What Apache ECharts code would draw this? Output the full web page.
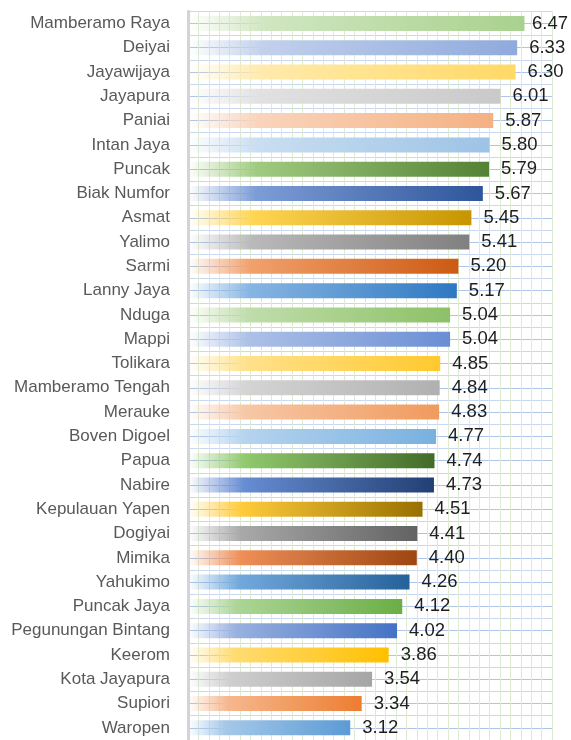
<!DOCTYPE html>
<html>
<head>
<meta charset="utf-8">
<script src="https://cdn.jsdelivr.net/npm/echarts@6/dist/echarts.min.js"></script>
<style>
html,body{margin:0;padding:0;background:#fff;}
#chart{width:571px;height:740px;}
</style>
</head>
<body>
<div id="chart"></div>
<script>
// ---- data (top to bottom) ----
const categories = [
  "Mamberamo Raya","Deiyai","Jayawijaya","Jayapura","Paniai","Intan Jaya",
  "Puncak","Biak Numfor","Asmat","Yalimo","Sarmi","Lanny Jaya",
  "Nduga","Mappi","Tolikara","Mamberamo Tengah","Merauke","Boven Digoel",
  "Papua","Nabire","Kepulauan Yapen","Dogiyai","Mimika","Yahukimo",
  "Puncak Jaya","Pegunungan Bintang","Keerom","Kota Jayapura","Supiori","Waropen"
];
const values = [
  6.47,6.33,6.30,6.01,5.87,5.80,
  5.79,5.67,5.45,5.41,5.20,5.17,
  5.04,5.04,4.85,4.84,4.83,4.77,
  4.74,4.73,4.51,4.41,4.40,4.26,
  4.12,4.02,3.86,3.54,3.34,3.12
];
// bar end colours (style)
const barColors = [
  "#A9D18E","#8FAADC","#FFD966","#C9C9C9","#F4B183","#9DC3E6",
  "#548235","#2F559A","#C69500","#808080","#CC5A12","#2E78C2",
  "#8CC166","#6A8ED4","#FFC92E","#B0B0B0","#F09A5E","#78B0E0",
  "#426B28","#223F74","#987000","#626262","#9E4510","#25619A",
  "#6AAE45","#4472C4","#FFC000","#A5A5A5","#ED7D31","#5B9BD5"
];

function hexToRgb(h){h=h.replace('#','');return [parseInt(h.substr(0,2),16),parseInt(h.substr(2,2),16),parseInt(h.substr(4,2),16)];}
function rgbToHsl(r,g,b){r/=255;g/=255;b/=255;const mx=Math.max(r,g,b),mn=Math.min(r,g,b);let h=0,s=0,l=(mx+mn)/2;
  if(mx!==mn){const d=mx-mn;s=l>0.5?d/(2-mx-mn):d/(mx+mn);
    if(mx===r)h=(g-b)/d+(g<b?6:0);else if(mx===g)h=(b-r)/d+2;else h=(r-g)/d+4;h/=6;}
  return [h,s,l];}
function hslToRgb(h,s,l){function f(p,q,t){if(t<0)t+=1;if(t>1)t-=1;if(t<1/6)return p+(q-p)*6*t;if(t<1/2)return q;if(t<2/3)return p+(q-p)*(2/3-t)*6;return p;}
  if(s===0)return [l*255,l*255,l*255];const q=l<0.5?l*(1+s):l+s-l*s,p=2*l-q;
  return [f(p,q,h+1/3)*255,f(p,q,h)*255,f(p,q,h-1/3)*255];}
function tint(hex,amt){const [r,g,b]=hexToRgb(hex);const [h,s,l]=rgbToHsl(r,g,b);const c=hslToRgb(h,s,l+(1-l)*amt);return c.map(Math.round);}

function gradientFor(i){
  const end=barColors[i];
  const t=tint(end,0.45);
  return new echarts.graphic.LinearGradient(0,0,1,0,[
    {offset:0,color:`rgba(${t[0]},${t[1]},${t[2]},0)`},
    {offset:0.23,color:`rgb(${t[0]},${t[1]},${t[2]})`},
    {offset:1,color:end}
  ]);
}

const chart = echarts.init(document.getElementById('chart'), null, {renderer:'canvas'});
const option = {
  animation:false,
  backgroundColor:'#ffffff',
  grid:{left:188, top:11.3, width:364, height:731, containLabel:false},
  xAxis:{
    type:'value', min:0, max:7, interval:0.2,
    axisLabel:{show:false}, axisTick:{show:false}, axisLine:{show:false},
    splitLine:{show:true, lineStyle:{color:'#DCEBD2', width:1}}
  },
  yAxis:[
    {
      type:'category', data:categories, inverse:true,
      axisTick:{show:false},
      axisLine:{show:true, lineStyle:{color:'#D4D4D4', width:3}},
      axisLabel:{color:'#595959', fontFamily:'Liberation Sans, Arial, sans-serif', fontSize:17, margin:18},
      splitLine:{show:false}, z:5
    },
    {
      type:'value', min:0, max:60, interval:1, position:'right',
      axisLabel:{show:false}, axisTick:{show:false}, axisLine:{show:false},
      splitLine:{show:true, lineStyle:{color:['#C9D7EF','#B0C4E8'], width:1}}
    }
  ],
  series:[{
    type:'bar',
    yAxisIndex:0,
    barWidth:15,
    data: values.map((v,i)=>({value:v, itemStyle:{color:gradientFor(i)}})),
    label:{
      show:true, position:'right', distance:12,
      color:'#1E1E1E', fontFamily:'Liberation Sans, Arial, sans-serif', fontSize:18.5,
      formatter:(p)=>p.value.toFixed(2)
    },
    labelLayout:function(params){
      const r=params.labelRect;
      return {
        x: Math.min(r.x, 568 - r.width),
        y: r.y + r.height/2,
        align:'left', verticalAlign:'middle'
      };
    }
  }]
};
chart.setOption(option);
</script>
</body>
</html>
